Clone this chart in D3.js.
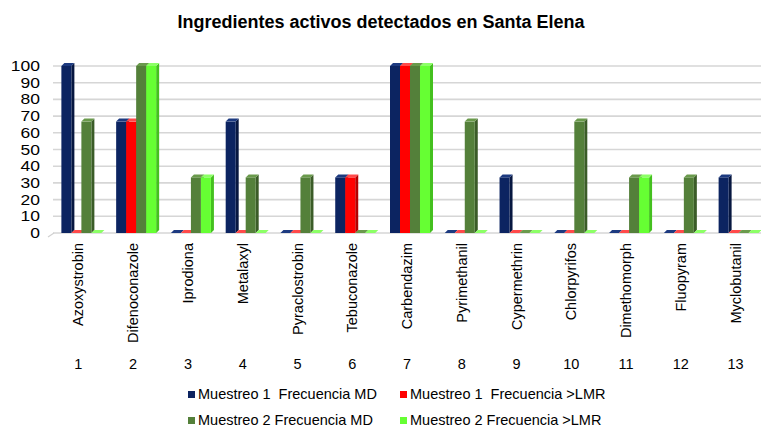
<!DOCTYPE html>
<meta charset="UTF-8">
<html lang="es">
<head><link rel="icon" href="data:,"></head>
<style>
body { margin: 0; background: #fff; }
text { font-family: "Liberation Sans", Arial, sans-serif; fill: #000; }
</style>
<script src="https://unpkg.com/d3@7.0.1/dist/d3.min.js"></script>
<body>
<svg id="view"></svg>
</body>
<script>
const viewDims = { width: 761, height: 430 };

const ingredients = ["Azoxystrobin", "Difenoconazole", "Iprodiona", "Metalaxyl", "Pyraclostrobin",
  "Tebuconazole", "Carbendazim", "Pyrimethanil", "Cypermethrin", "Chlorpyrifos",
  "Dimethomorph", "Fluopyram", "Myclobutanil"];
const seriesNames = ["Muestreo 1  Frecuencia MD", "Muestreo 1  Frecuencia >LMR",
  "Muestreo 2 Frecuencia MD", "Muestreo 2 Frecuencia >LMR"];
const m1MD  = [100, 66.7, 0, 66.7, 0, 33.3, 100, 0, 33.3, 0, 0, 0, 33.3];
const m1LMR = [0, 66.7, 0, 0, 0, 33.3, 100, 0, 0, 0, 0, 0, 0];
const m2MD  = [66.7, 100, 33.3, 33.3, 33.3, 0, 100, 66.7, 0, 66.7, 33.3, 33.3, 0];
const m2LMR = [0, 100, 33.3, 0, 0, 0, 100, 0, 0, 0, 33.3, 0, 0];
const yTicks = [0, 10, 20, 30, 40, 50, 60, 70, 80, 90, 100];

const seriesValues = [m1MD, m1LMR, m2MD, m2LMR];
const fronts = ["#0c2461", "#ff0000", "#54803a", "#66ff33"];
const sides  = ["#071740", "#b30000", "#3b5c28", "#44c01f"];
const tops   = ["#1d3a80", "#ff4a4a", "#6a9a4c", "#8cff66"];

const depth = 3;

const svg = d3.select("svg#view")
  .attr("width", viewDims.width)
  .attr("height", viewDims.height);

const x = d3.scaleBand().domain(d3.range(ingredients.length)).range([54, 766]);
const groupW = 40;
const xs = d3.scaleBand().domain(d3.range(4)).range([0, groupW]);
const y = d3.scaleLinear().domain([0, 100]).range([233, 66]);

// title
svg.append("text")
  .attr("x", 381).attr("y", 28)
  .attr("text-anchor", "middle")
  .style("font-size", "18px").style("font-weight", "bold")
  .text("Ingredientes activos detectados en Santa Elena");

// grid
const grid = svg.append("g");
grid.selectAll("line").data(yTicks).enter().append("line")
  .attr("x1", 53).attr("x2", 761)
  .attr("y1", d => y(d)).attr("y2", d => y(d))
  .attr("stroke", "#d6d6d6").attr("stroke-width", 1.6);
grid.append("line")
  .attr("x1", 48).attr("y1", y(0) + 4).attr("x2", 54).attr("y2", y(0))
  .attr("stroke", "#d0d0d0").attr("stroke-width", 1.2);

// y labels
svg.append("g").selectAll("text").data(yTicks).enter().append("text")
  .attr("transform", d => `translate(40,${y(d) + 5}) scale(1.25,1)`)
  .attr("text-anchor", "end")
  .style("font-size", "14px")
  .text(d => d);

// bars
const bars = [];
ingredients.forEach((name, i) => {
  seriesValues.forEach((vals, s) => {
    bars.push({ i, s, v: vals[i] });
  });
});

const barG = svg.append("g");
const bw = xs.bandwidth();
const bx = d => x(d.i) + (x.bandwidth() - groupW) / 2 + xs(d.s);

const bar = barG.selectAll("g").data(bars).enter().append("g");
// side face
bar.append("path")
  .attr("d", d => {
    const x1 = bx(d) + bw, yt = y(d.v), yb = y(0);
    return `M${x1},${yt}L${x1 + depth},${yt - depth}L${x1 + depth},${yb - depth}L${x1},${yb}Z`;
  })
  .attr("fill", d => sides[d.s]);
// front face
bar.append("rect")
  .attr("x", d => bx(d))
  .attr("y", d => y(d.v))
  .attr("width", bw)
  .attr("height", d => y(0) - y(d.v))
  .attr("fill", d => fronts[d.s]);
// top face
bar.append("path")
  .attr("d", d => {
    const x0 = bx(d), yt = y(d.v);
    return `M${x0},${yt}L${x0 + depth},${yt - depth}L${x0 + bw + depth},${yt - depth}L${x0 + bw},${yt}Z`;
  })
  .attr("fill", d => tops[d.s]);

// category labels
const labG = svg.append("g");
labG.selectAll("text.name").data(ingredients).enter().append("text")
  .attr("class", "name")
  .attr("transform", (d, i) => `translate(${x(i) + x.bandwidth() / 2 - 3},243) rotate(-90)`)
  .attr("text-anchor", "end")
  .attr("dy", "0.35em")
  .style("font-size", "14.5px")
  .text(d => d);
labG.selectAll("text.num").data(ingredients).enter().append("text")
  .attr("class", "num")
  .attr("x", (d, i) => x(i) + x.bandwidth() / 2 - 3)
  .attr("y", 369)
  .attr("text-anchor", "middle")
  .style("font-size", "14.5px")
  .text((d, i) => i + 1);

// legend
const legPos = [[188, 399], [400, 399], [188, 425], [400, 425]];
const leg = svg.append("g").selectAll("g").data(seriesNames).enter().append("g")
  .attr("transform", (d, i) => `translate(${legPos[i][0]},${legPos[i][1]})`);
leg.append("rect")
  .attr("x", 0).attr("y", -8).attr("width", 7).attr("height", 7)
  .attr("fill", (d, i) => fronts[i]);
leg.append("text")
  .attr("x", 10).attr("y", 0)
  .style("font-size", "14.5px")
  .style("white-space", "pre")
  .attr("xml:space", "preserve")
  .text(d => d);
</script>
</html>
